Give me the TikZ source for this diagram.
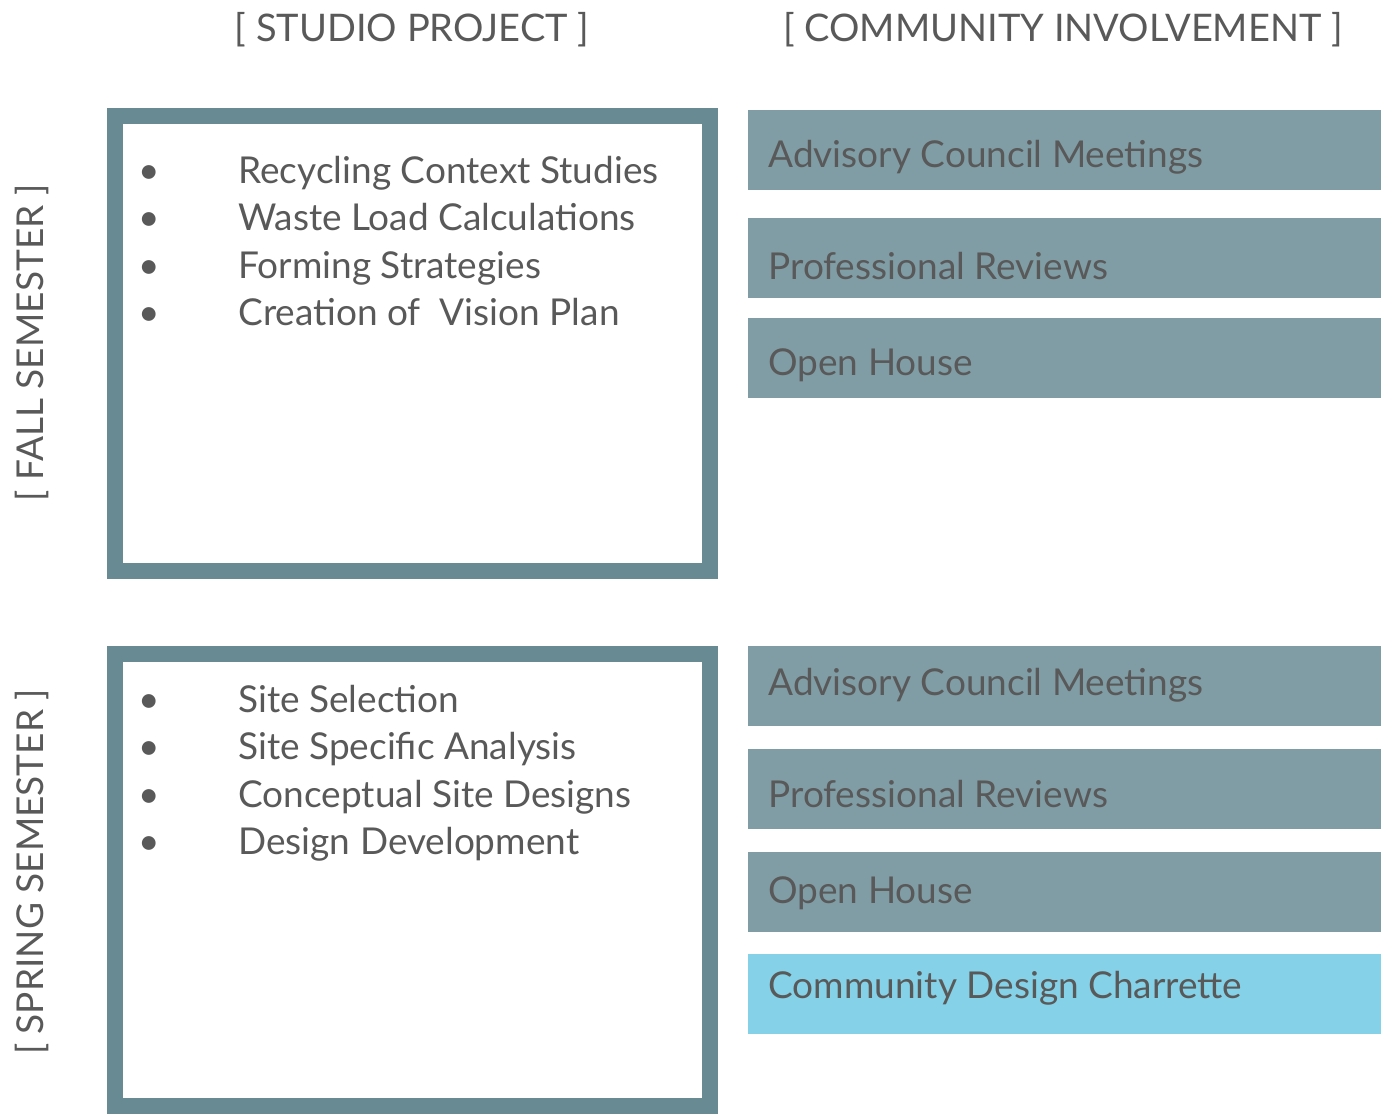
\documentclass[tikz,border=0pt]{standalone}
\usepackage{fontspec}
\setmainfont{Lato}
\usepackage{xcolor}

\definecolor{framecol}{HTML}{678A93}
\definecolor{barcol}{HTML}{809DA5}
\definecolor{hotcol}{HTML}{84D1E8}
\definecolor{inkcol}{HTML}{595959}

\tikzset{
  bar/.style={fill=#1,anchor=north west,minimum width=316.5pt,minimum height=40pt,inner sep=0pt},
  bar/.default=barcol,
  head/.style={font=\fontsize{19}{22}\selectfont,text=inkcol},
  item/.style={anchor=base west,inner sep=0pt,font=\fontsize{18.5}{20}\selectfont,text=inkcol},
  dot/.style={anchor=base,inner sep=0pt,font=\fontsize{18.5}{20}\selectfont,text=inkcol}
}

\begin{document}
\begin{tikzpicture}[x=0.5pt,y=-0.5pt]

\useasboundingbox (0,0) rectangle (1392,1114);

% column and row titles
\node(studio) at (412,41)[head,anchor=base] {[ STUDIO PROJECT ]};
\node(community) at (1063,41)[head,anchor=base] {[ COMMUNITY INVOLVEMENT ]};
\node(fall) at (32,343)[head,rotate=90,font=\fontsize{18.5}{22}\selectfont] {[ FALL SEMESTER ]};
\node(spring) at (32,872)[head,rotate=90,font=\fontsize{18.5}{22}\selectfont] {[ SPRING SEMESTER ]};

% studio boxes
\draw[framecol,line width=8pt] (115,116) rectangle (710,571);
\draw[framecol,line width=8pt] (115,654) rectangle (710,1106);

\foreach \t [count=\i from 0] in {Recycling Context Studies,Waste Load Calculations,Forming Strategies,Creation of~\ Vision Plan}{
  \node(fb\i) at (149,183+47.5*\i)[dot] {\textbullet};
  \node(fi\i) at (238,183+47.5*\i)[item] {\t};
}
\foreach \t [count=\i from 0] in {Site Selection,Site Specific Analysis,Conceptual Site Designs,Design Development}{
  \node(sb\i) at (149,712+47.5*\i)[dot] {\textbullet};
  \node(si\i) at (238,712+47.5*\i)[item] {\t};
}

% community bars
\node(fadv) at (748,110)[bar] {};
\node(fpro) at (748,218)[bar] {};
\node(fopen) at (748,318)[bar] {};
\node(sadv) at (748,646)[bar] {};
\node(spro) at (748,749)[bar] {};
\node(sopen) at (748,852)[bar] {};
\node(schar) at (748,954)[bar=hotcol] {};

\node(fadvt) at (768,167)[item] {Advisory Council Meetings};
\node(fprot) at (768,279)[item] {Professional Reviews};
\node(fopent) at (768,375)[item] {Open House};
\node(sadvt) at (768,695)[item] {Advisory Council Meetings};
\node(sprot) at (768,807)[item] {Professional Reviews};
\node(sopent) at (768,903)[item] {Open House};
\node(schart) at (768,998)[item] {Community Design Charrette};

\end{tikzpicture}
\end{document}
